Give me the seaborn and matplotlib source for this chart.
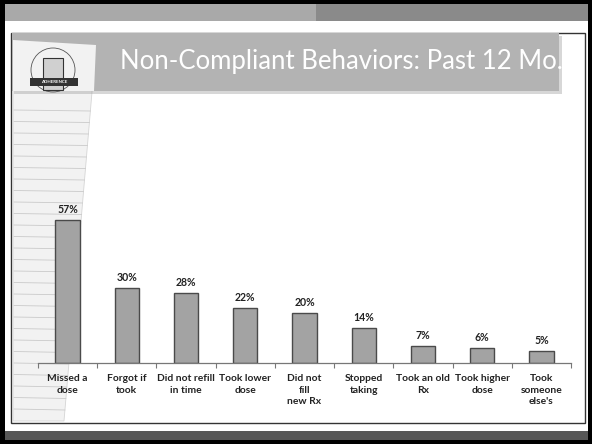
import matplotlib
matplotlib.use("Agg")
import matplotlib.pyplot as plt
import seaborn as sns
import pandas as pd
import numpy as np
from matplotlib.patches import Rectangle, Polygon, Ellipse

categories = ["Missed a\ndose", "Forgot if\ntook", "Did not refill\nin time", "Took lower\ndose",
              "Did not\nfill\nnew Rx", "Stopped\ntaking", "Took an old\nRx", "Took higher\ndose",
              "Took\nsomeone\nelse's"]
values = [57, 30, 28, 22, 20, 14, 7, 6, 5]
title = "Non-Compliant Behaviors: Past 12 Mo."

W, H = 592, 444
sns.set_theme(style="white")
plt.rcParams['font.family'] = ['Lato', 'DejaVu Sans']

fig = plt.figure(figsize=(W / 100, H / 100), dpi=100)
fig.patch.set_facecolor("white")

def px_rect(x0, y0, x1, y1, **kw):
    r = Rectangle((x0 / W, 1 - y1 / H), (x1 - x0) / W, (y1 - y0) / H,
                  transform=fig.transFigure, **kw)
    fig.patches.append(r)
    return r

def px_poly(pts, **kw):
    p = Polygon([(x / W, 1 - y / H) for x, y in pts], closed=True,
                transform=fig.transFigure, **kw)
    fig.patches.append(p)
    return p

# outer slide frame
px_rect(0, 0, W, H, facecolor="black", edgecolor="none", zorder=-5)
px_rect(5, 4, 588, 440, facecolor="white", edgecolor="none", zorder=-4.9)
px_rect(5, 4, 316, 21, facecolor="#a9a9a9", edgecolor="none", zorder=-4.8)
px_rect(316, 4, 588, 21, facecolor="#8a8a8a", edgecolor="none", zorder=-4.8)
px_rect(5, 431, 588, 440, facecolor="#575757", edgecolor="none", zorder=-4.8)
# inner content box
px_rect(11, 33, 585, 423, facecolor="white", edgecolor="#333333", linewidth=1.0, zorder=-4.7)

# notepad paper on the left
px_poly([(13, 40), (96, 45), (64, 421), (13, 421)], facecolor="#f2f2f2",
        edgecolor="#d5d5d5", linewidth=0.6, zorder=-4.6)
for yy in np.arange(110, 420, 11.5):
    xr = 96 - (yy - 45) * (32 / 376)
    fig.lines.append(plt.Line2D([14 / W, xr / W], [1 - yy / H, 1 - (yy + 1) / H],
                                transform=fig.transFigure, color="#cacaca", lw=0.6, zorder=-4.5))

# title band
px_rect(14, 36, 562, 94, facecolor="#8f8f8f", edgecolor="none", alpha=0.35, zorder=-4.4)
px_rect(12, 33, 559, 91, facecolor="#b3b3b3", edgecolor="none", zorder=-4.3)
px_poly([(13, 40), (96, 45), (94, 91), (13, 91)], facecolor="#f2f2f2", edgecolor="none", zorder=-4.2)
fig.text(120 / W, 1 - 62 / H, title, color="white", fontsize=18.5,
         family=['Lato', 'DejaVu Sans'], va="center", ha="left", zorder=2)

# logo approximation
fig.patches.append(Ellipse((53 / W, 1 - 70 / H), 44 / W, 44 / H, transform=fig.transFigure,
                           facecolor="none", edgecolor="#555555", lw=0.6, zorder=-4.1))
px_rect(43, 58, 63, 90, facecolor="#d0d0d0", edgecolor="#333333", linewidth=0.8, zorder=-4.0)
px_rect(30, 78, 78, 86, facecolor="#333333", edgecolor="none", zorder=-3.9)
fig.text(54 / W, 1 - 82 / H, "ADHERENCE", color="white", fontsize=3.2, ha="center",
         va="center", weight="bold", zorder=-3.8)

# chart axes
x0, x1, ybase = 38, 571, 363.3
ppu = 2.515
ymax = 60
ax = fig.add_axes([x0 / W, 1 - ybase / H, (x1 - x0) / W, ymax * ppu / H])
ax.set_zorder(5)
ax.set_facecolor("none")
df = pd.DataFrame({"cat": categories, "val": values})
sns.barplot(data=df, x="cat", y="val", ax=ax, color="#a3a3a3", edgecolor="#4a4a4a",
            linewidth=1.0, width=0.41, saturation=1)
ax.set_xlim(-0.5, len(categories) - 0.5)
ax.set_ylim(0, ymax)
for i, v in enumerate(values):
    ax.annotate(f"{v}%", (i, v), xytext=(0, 3.5), textcoords="offset points", ha="center",
                va="bottom", fontsize=7.6, weight="bold", color="#222222", annotation_clip=False)
for s in ["top", "right", "left"]:
    ax.spines[s].set_visible(False)
ax.spines["bottom"].set_color("#777777")
ax.spines["bottom"].set_linewidth(0.9)
ax.set_yticks([])
ax.set_xlabel("")
ax.set_ylabel("")
ax.set_xticks(range(len(categories)))
ax.set_xticklabels(categories, fontsize=7.4, weight="bold", color="#222222", linespacing=1.3, va="top")
ax.set_xticks(np.arange(-0.5, len(categories), 1), minor=True)
ax.tick_params(axis="x", which="major", length=0, pad=8)
ax.tick_params(axis="x", which="minor", length=3.5, width=0.8, color="#777777", direction="out", bottom=True)

fig.savefig("out.png", dpi=100)
